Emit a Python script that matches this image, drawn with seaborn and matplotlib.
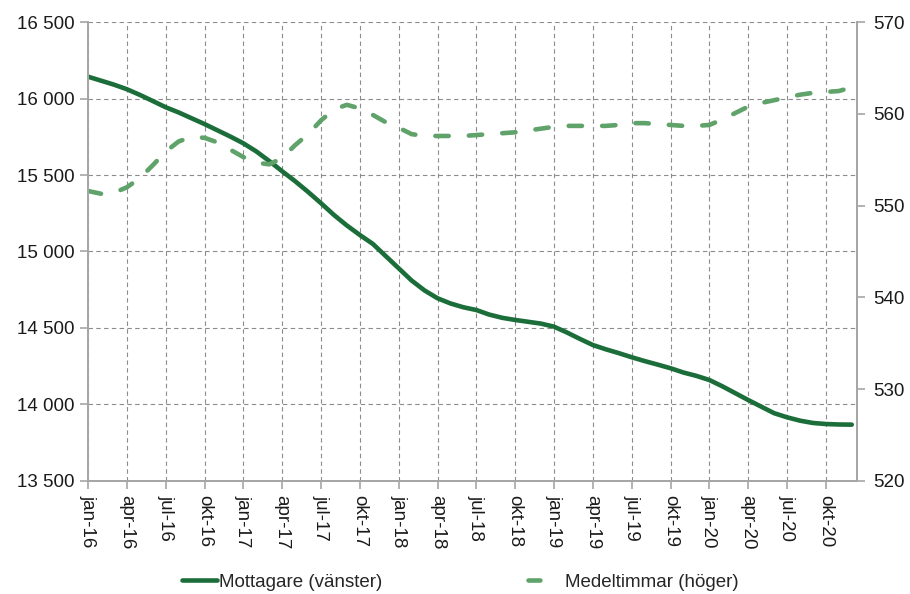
import pandas as pd
import matplotlib
matplotlib.use("Agg")
import matplotlib.pyplot as plt
import seaborn as sns
import numpy as np

# Data: monthly values jan-16 .. dec-20

manader = list(range(60))

etiketter = ["jan-16", "apr-16", "jul-16", "okt-16",
             "jan-17", "apr-17", "jul-17", "okt-17",
             "jan-18", "apr-18", "jul-18", "okt-18",
             "jan-19", "apr-19", "jul-19", "okt-19",
             "jan-20", "apr-20", "jul-20", "okt-20"]

mottagare = [16144, 16118, 16092, 16062, 16025, 15985, 15944, 15910, 15872, 15834,
             15793, 15752, 15708, 15655, 15592, 15525, 15460, 15390, 15316, 15239,
             15170, 15108, 15050, 14970, 14890, 14810, 14745, 14694, 14660, 14635,
             14617, 14587, 14566, 14552, 14540, 14528, 14508, 14470, 14428, 14388,
             14360, 14335, 14308, 14283, 14260, 14236, 14208, 14186, 14159, 14118,
             14073, 14028, 13985, 13942, 13915, 13893, 13878, 13871, 13868, 13867]

medeltimmar = [551.6, 551.3, 551.4, 552.0, 553.0, 554.4, 555.9, 557.0, 557.5, 557.4,
               556.9, 556.1, 555.3, 554.7, 554.5, 555.2, 556.6, 557.8, 559.3, 560.5,
               561.0, 560.6, 559.9, 559.1, 558.5, 557.8, 557.6, 557.6, 557.6, 557.6,
               557.7, 557.8, 557.9, 558.0, 558.2, 558.4, 558.6, 558.7, 558.7, 558.7,
               558.7, 558.8, 559.0, 559.0, 558.9, 558.8, 558.7, 558.7, 558.8, 559.4,
               560.1, 560.8, 561.2, 561.5, 561.8, 562.1, 562.3, 562.4, 562.5, 562.9]

df = pd.DataFrame({"manad": manader, "mottagare": mottagare, "medeltimmar": medeltimmar})

sns.set_style("white")
plt.rcParams["font.family"] = ["Liberation Sans", "DejaVu Sans"]

fig = plt.figure(figsize=(9.1, 5.94), dpi=100)
ax = fig.add_axes([0.0967, 0.1907, 0.845, 0.7718])
ax2 = ax.twinx()

gra = "#a6a6a6"
mork = "#1b6e3a"
ljus = "#5fa36a"

# solid line, left axis
sns.lineplot(x="manad", y="mottagare", data=df, ax=ax, color=mork,
             linewidth=3.3, label="Mottagare (vänster)", legend=False)

# dashed line, right axis
sns.lineplot(x="manad", y="medeltimmar", data=df, ax=ax2, color=ljus,
             linewidth=3.3, label="Medeltimmar (höger)", legend=False)
ax2.lines[0].set_dashes((2.9, 4.4))
ax2.lines[0].set_dash_capstyle("round")

ax.set_xlim(0, 59.4)
ax.set_ylim(13500, 16500)
ax2.set_ylim(520, 570)

ax.set_yticks(np.arange(13500, 16501, 500))
ax.set_yticklabels([f"{v:,}".replace(",", " ") for v in range(13500, 16501, 500)])
ax2.set_yticks(np.arange(520, 571, 10))

ax.set_xticks(range(0, 60, 3))
ax.set_xticklabels(etiketter, rotation=-90)

ax.set_xlabel("")
ax.set_ylabel("")
ax2.set_ylabel("")

ax.grid(True, color="#8c8c8c", linestyle=(0, (4, 3)), linewidth=0.8)
ax2.grid(False)
ax.set_axisbelow(True)

for a in [ax, ax2]:
    a.spines["top"].set_visible(False)
    for s in ["left", "right", "bottom"]:
        a.spines[s].set_color(gra)
        a.spines[s].set_linewidth(1.3)
    a.tick_params(axis="both", labelsize=13.5, colors="#1a1a1a", length=6,
                  width=1.2, color=gra, direction="out")
ax.tick_params(axis="y", left=True)
ax.tick_params(axis="x", bottom=True, pad=4)
ax2.tick_params(axis="y", right=True, pad=6)

h1, l1 = ax.get_legend_handles_labels()
h2, l2 = ax2.get_legend_handles_labels()
leg = fig.legend(h1 + h2, l1 + l2, loc="center", bbox_to_anchor=(0.506, 0.02),
                 ncol=2, frameon=False, fontsize=13.5, handlelength=1.85,
                 handletextpad=0.1, columnspacing=7.8)
# legend shows a single dash for the dashed series
leg.get_lines()[1].set_dashes((2.6, 10))
leg.get_lines()[1].set_dash_capstyle("round")

fig.savefig("out.png", dpi=100)
